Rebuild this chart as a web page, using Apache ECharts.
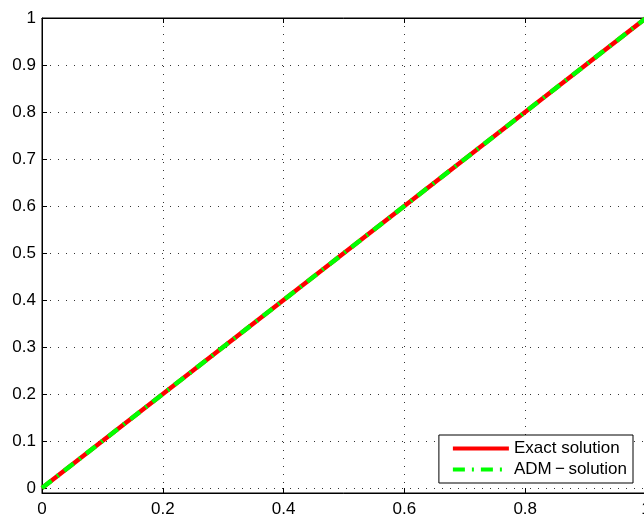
<!DOCTYPE html>
<html>
<head>
<meta charset="utf-8">
<script src="https://cdn.jsdelivr.net/npm/echarts@6/dist/echarts.min.js"></script>
<style>
  html, body { margin: 0; padding: 0; background: #fff; }
  #chart-container { width: 644px; height: 515px; }
</style>
</head>
<body>
<div id="chart-container"></div>
<script>
const xValues = [0, 0.1, 0.2, 0.3, 0.4, 0.5, 0.6, 0.7, 0.8, 0.9, 1];
const exactValues = [0, 0.1, 0.2, 0.3, 0.4, 0.5, 0.6, 0.7, 0.8, 0.9, 1];
const admValues = [0, 0.1, 0.2, 0.3, 0.4, 0.5, 0.6, 0.7, 0.8, 0.9, 1];
const xTicks = [0, 0.2, 0.4, 0.6, 0.8, 1];
const yTicks = [0, 0.1, 0.2, 0.3, 0.4, 0.5, 0.6, 0.7, 0.8, 0.9, 1];

let dom = document.getElementById('chart-container');
let myChart = echarts.init(dom, null, { renderer: 'canvas' });

const font = 'Liberation Sans, Arial, sans-serif';
const gridLine = { show: true, lineStyle: { color: '#333', type: [1, 7], width: 1 } };

let option = {
  animation: false,
  textStyle: { fontFamily: font },
  grid: {
    left: 42, top: 18, right: -2, bottom: 22,
    outerBoundsMode: 'none',
    containLabel: false,
    show: true, borderColor: '#000', borderWidth: 1
  },
  legend: {
    orient: 'vertical',
    right: 11,
    bottom: 32,
    backgroundColor: '#fff',
    borderColor: '#000',
    borderWidth: 1,
    borderRadius: 0,
    padding: [5, 6, 5, 12],
    itemGap: 4,
    itemWidth: 56,
    itemHeight: 18,
    itemStyle: { opacity: 0 },
    lineStyle: { width: 4 },
    textStyle: { fontSize: 17, color: '#000', fontFamily: font },
    data: ['Exact solution', 'ADM\u2009\u2212\u2009solution']
  },
  xAxis: [
    {
      type: 'value', min: 0, max: 1,
      axisLine: { show: true, onZero: false, lineStyle: { color: '#000' } },
      axisTick: { show: true, inside: true, length: 5, customValues: xTicks, lineStyle: { color: '#000' } },
      axisLabel: { customValues: xTicks, fontSize: 17, color: '#000', margin: 8, formatter: v => String(v) },
      splitLine: gridLine
    },
    {
      type: 'value', min: 0, max: 1, position: 'top',
      axisLine: { show: true, onZero: false, lineStyle: { color: '#000' } },
      axisTick: { show: true, inside: true, length: 5, customValues: xTicks, lineStyle: { color: '#000' } },
      axisLabel: { show: false },
      splitLine: { show: false }
    }
  ],
  yAxis: [
    {
      type: 'value', min: -0.0106, max: 1,
      axisLine: { show: true, onZero: false, lineStyle: { color: '#000' } },
      axisTick: { show: true, inside: true, length: 5, customValues: yTicks, lineStyle: { color: '#000' } },
      axisLabel: { customValues: yTicks, fontSize: 17, color: '#000', margin: 6, formatter: v => String(v) },
      splitLine: gridLine
    }
  ],
  series: [
    {
      name: 'Exact solution',
      type: 'line',
      data: xValues.map((x, i) => [x, exactValues[i]]),
      showSymbol: false,
      symbol: 'none',
      lineStyle: { color: '#ff0000', width: 4.5 },
      itemStyle: { color: '#ff0000' }
    },
    {
      name: 'ADM\u2009\u2212\u2009solution',
      type: 'line',
      data: xValues.map((x, i) => [x, admValues[i]]),
      showSymbol: false,
      symbol: 'none',
      lineStyle: { color: '#00ff00', width: 4.5, type: [12, 7, 2, 7] },
      itemStyle: { color: '#00ff00' }
    }
  ]
};

myChart.setOption(option);
window.addEventListener('resize', myChart.resize);
</script>
</body>
</html>
